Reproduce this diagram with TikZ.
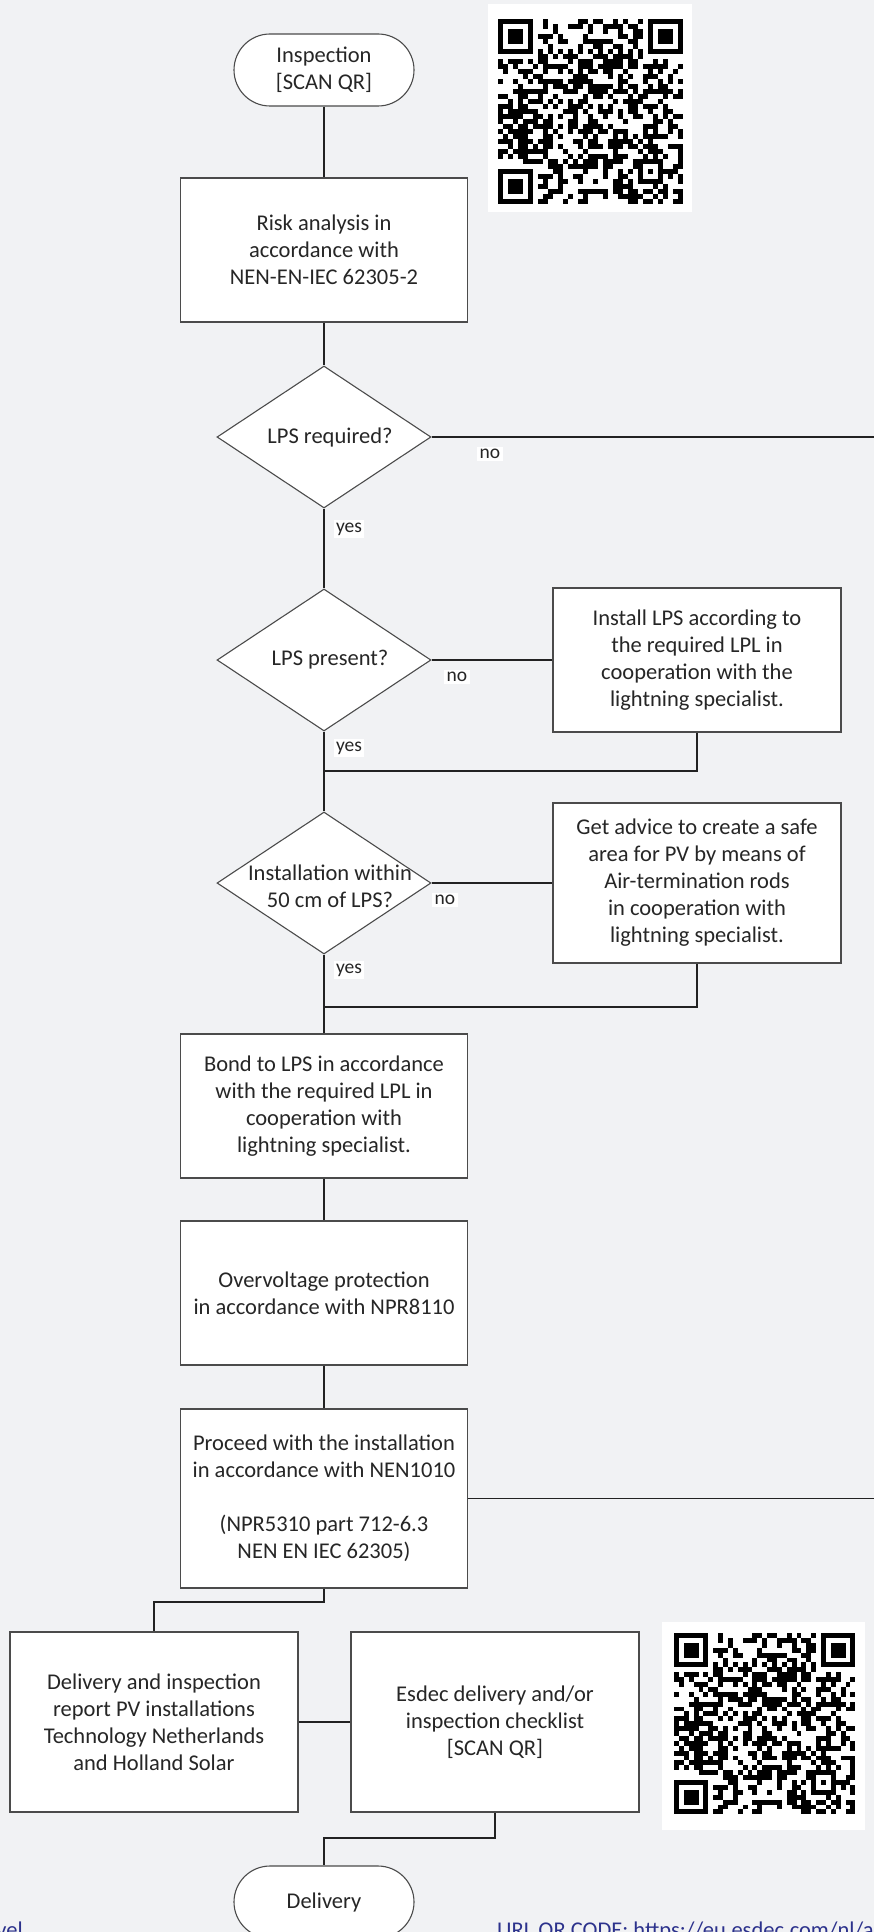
\documentclass[tikz,border=0pt]{standalone}
\usepackage{fontspec}
\setmainfont{Carlito}
\usetikzlibrary{shapes.geometric,calc}
\definecolor{bgc}{RGB}{241,242,244}
\definecolor{linec}{RGB}{34,34,34}
\definecolor{boxc}{RGB}{75,75,75}
\definecolor{txtc}{RGB}{38,38,38}
\definecolor{urlc}{RGB}{44,50,140}

\newcommand{\qrdraw}[4]{%
  \pgfmathsetseed{#4}%
  \foreach \qi in {0,...,36}{%
    \foreach \qj in {0,...,36}{%
      \pgfmathrandominteger{\qrbit}{0}{1}%
      \ifnum\qrbit=1 \fill[black] ({#1+\qi*#3},{#2+\qj*#3}) rectangle ++(#3,#3);\fi
    }}%
  \fill[white] ({#1+8*#3},{#2+6*#3}) rectangle ++({21*#3},#3);
  \fill[white] ({#1+6*#3},{#2+8*#3}) rectangle ++(#3,{21*#3});
  \foreach \qk in {8,10,...,28}{%
    \fill[black] ({#1+\qk*#3},{#2+6*#3}) rectangle ++(#3,#3);
    \fill[black] ({#1+6*#3},{#2+\qk*#3}) rectangle ++(#3,#3);
  }%
  \foreach \fx/\fy in {0/0,30/0,0/30}{%
    \fill[white] ({#1+(\fx-1)*#3},{#2+(\fy-1)*#3}) rectangle ++({9*#3},{9*#3});
    \fill[black] ({#1+\fx*#3},{#2+\fy*#3}) rectangle ++({7*#3},{7*#3});
    \fill[white] ({#1+(\fx+1)*#3},{#2+(\fy+1)*#3}) rectangle ++({5*#3},{5*#3});
    \fill[black] ({#1+(\fx+2)*#3},{#2+(\fy+2)*#3}) rectangle ++({3*#3},{3*#3});
  }%
  \fill[black] ({#1+28*#3},{#2+28*#3}) rectangle ++({5*#3},{5*#3});
  \fill[white] ({#1+29*#3},{#2+29*#3}) rectangle ++({3*#3},{3*#3});
  \fill[black] ({#1+30*#3},{#2+30*#3}) rectangle ++(#3,#3);
}

\tikzset{
  txt/.style={font=\fontsize{22.5}{27}\selectfont, text=txtc, align=center},
  box/.style={txt, draw=boxc, line width=1.1pt, fill=white, minimum width=287pt, inner sep=2pt},
  term/.style={txt, draw=boxc, line width=1.1pt, fill=white, minimum width=180pt, minimum height=72pt, rounded corners=36pt, inner sep=0pt},
  dia/.style={draw=boxc, line width=1.1pt, fill=white, diamond, minimum width=214pt, minimum height=142pt, inner sep=0pt},
  lbl/.style={fill=white, inner sep=2.5pt, font=\fontsize{19.5}{22}\selectfont, text=txtc},
  conn/.style={draw=linec, line width=1.6pt},
  urlt/.style={font=\fontsize{22.5}{27}\selectfont, text=urlc, inner sep=0pt}
}

\begin{document}
\begin{tikzpicture}[x=1pt,y=-1pt]
\useasboundingbox (0,0) rectangle (874,1932);
\clip (0,0) rectangle (874,1932);
\fill[bgc] (0,0) rectangle (874,1932);

% QR codes
\fill[white] (488,4) rectangle (692,212);
\qrdraw{498}{19}{5}{17}
\fill[white] (662,1622) rectangle (865,1830);
\qrdraw{674}{1633}{4.9}{17}

% coordinates
\coordinate (redge1) at (874,437);
\coordinate (m1) at (324,771);
\coordinate (m2) at (324,1007);
\coordinate (redge2) at (874,1498.5);
\coordinate (j1) at (324,1602);
\coordinate (j2) at (324,1838);

% nodes
\node[term] (ins) at (324,70) {Inspection\\{[SCAN QR]}};
\node[box, minimum height=144pt] (risk) at (324,250) {Risk analysis in\\accordance with\\NEN-EN-IEC 62305-2};
\node[dia] (d1) at (324,437) {};
\node[dia] (d2) at (324,660) {};
\node[box, minimum height=144pt, minimum width=288pt] (inst) at (697,660) {Install LPS according to\\the required LPL in\\cooperation with the\\lightning specialist.};
\node[dia] (d3) at (324,883) {};
\node[box, minimum height=160pt, minimum width=288pt] (adv) at (697,883) {Get advice to create a safe\\area for PV by means of\\Air-termination rods\\in cooperation with\\lightning specialist.};
\node[box, minimum height=144pt] (bond) at (324,1106) {Bond to LPS in accordance\\with the required LPL in\\cooperation with\\lightning specialist.};
\node[box, minimum height=144pt] (ov) at (324,1293) {Overvoltage protection\\in accordance with NPR8110};
\node[box, minimum height=179pt] (proc) at (324,1498.5) {Proceed with the installation\\in accordance with NEN1010\\[27pt](NPR5310 part 712-6.3\\NEN EN IEC 62305)};
\node[box, minimum height=180pt, minimum width=288pt] (rep) at (154,1722) {Delivery and inspection\\report PV installations\\Technology Netherlands\\and Holland Solar};
\node[box, minimum height=180pt, minimum width=288pt] (esd) at (495,1722) {Esdec delivery and/or\\inspection checklist\\{[SCAN QR]}};
\node[term] (del) at (324,1902) {Delivery};

% connectors
\draw[conn] (ins) -- (risk);
\draw[conn] (risk) -- (d1);
\draw[conn] (d1) -- (d2);
\draw[conn] (d1.east) -- (redge1);
\draw[conn] (d2.east) -- (inst.west);
\draw[conn] (inst.south) |- (m1);
\draw[conn] (d2) -- (d3);
\draw[conn] (d3.east) -- (adv.west);
\draw[conn] (adv.south) |- (m2);
\draw[conn] (d3) -- (bond);
\draw[conn] (bond) -- (ov);
\draw[conn] (ov) -- (proc);
\draw[conn] (proc.east) -- (redge2);
\draw[conn] (proc.south) -- (j1) -| (rep.north);
\draw[conn] (rep.east) -- (esd.west);
\draw[conn] (esd.south) |- (j2) -- (del.north);

% diamond texts
\node[txt] (d1t) at (330,437) {LPS required?};
\node[txt] (d2t) at (330,660) {LPS present?};
\node[txt] (d3t) at (330,886) {Installation within\\50 cm of LPS?};

% labels
\node[lbl] (no1) at (490,454) {no};
\node[lbl] (yes1) at (349,529) {yes};
\node[lbl] (no2) at (457,677) {no};
\node[lbl] (yes2) at (349,748) {yes};
\node[lbl] (no3) at (445,900) {no};
\node[lbl] (yes3) at (349,970) {yes};

% bottom texts
\node[urlt, anchor=base east] (lvl) at (23,1937.5) {vel};
\node[urlt, anchor=base west] (url) at (497,1937.5) {URL QR CODE: https://eu.esdec.com/nl/a};
\end{tikzpicture}
\end{document}
